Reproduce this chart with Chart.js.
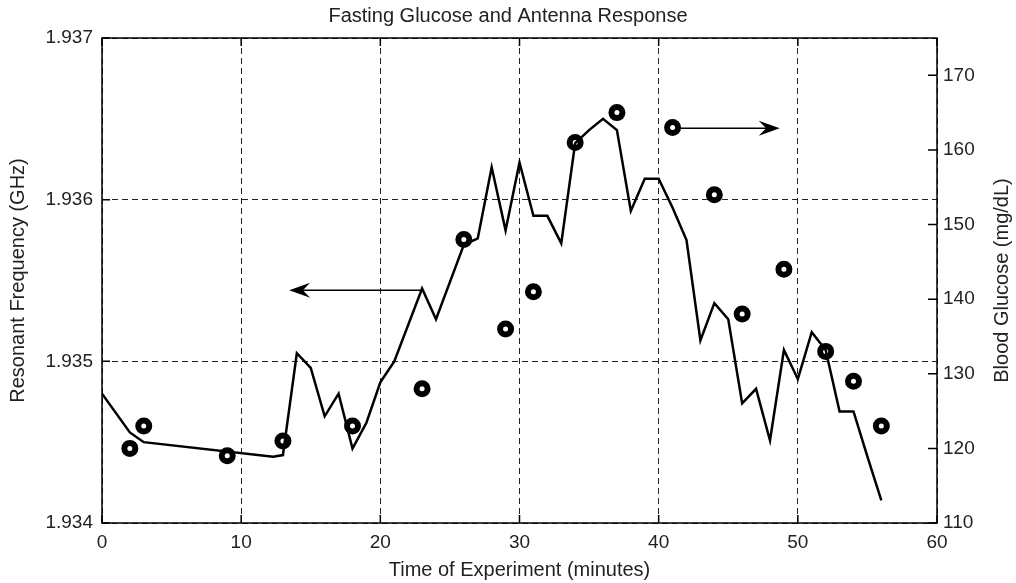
<!DOCTYPE html>
<html>
<head>
<meta charset="utf-8">
<script src="https://cdn.jsdelivr.net/npm/chart.js@4/dist/chart.umd.min.js"></script>
<style>
  body { margin: 0; background: #fff; }
  canvas { display: block; }
</style>
</head>
<body>
<canvas id="myChart" width="1016" height="583"></canvas>
<script>
// antenna response (left axis, GHz)
const freqTimes = [0, 2, 3, 12.3, 13, 14, 15, 16, 17, 18, 19, 20, 21, 23, 24, 26, 27, 28, 29, 30,
  31, 32, 33, 34, 35, 36, 37, 38, 39, 40, 41, 42, 43, 44, 45, 46, 47, 48, 49, 50,
  51, 52, 53, 54, 55, 56];
const freqValues = [1.93480, 1.93456, 1.93450, 1.93441, 1.93442, 1.93505, 1.93496, 1.93466, 1.93480, 1.93446,
  1.93462, 1.93487, 1.93500, 1.93545, 1.93526, 1.93572, 1.93576, 1.93620, 1.93581, 1.93623,
  1.93590, 1.93590, 1.93573, 1.93635, 1.93643, 1.93650, 1.93643, 1.93593, 1.93613, 1.93613,
  1.93595, 1.93575, 1.93513, 1.93536, 1.93526, 1.93474, 1.93483, 1.93451, 1.93507, 1.93489,
  1.93518, 1.93507, 1.93469, 1.93469, 1.93441, 1.93414];

// blood glucose (right axis, mg/dL)
const glucoseTimes = [2, 3, 9, 13, 18, 23, 26, 29, 31, 34, 37, 41, 44, 46, 49, 52, 54, 56];
const glucoseValues = [120, 123, 119, 121, 123, 128, 148, 136, 141, 161, 165, 163, 154, 138, 144, 133, 129, 123];

const xTicks = [0, 10, 20, 30, 40, 50, 60];
const freqTicks = [1.934, 1.935, 1.936, 1.937];
const glucoseTicks = [110, 120, 130, 140, 150, 160, 170];

// arrows pointing at the axis each series belongs to
const arrowFreq = { x1: 22.9, x2: 13.45, y: 1.93544, axis: 'y' };
const arrowGlucose = { x1: 41.6, x2: 48.7, y: 162.9, axis: 'y1' };

const FONT = '"Liberation Sans", Arial, sans-serif';
const TEXT = '#222';

let freqPoints = [];
for (let i = 0; i < freqTimes.length; i++) {
  freqPoints.push({ x: freqTimes[i], y: freqValues[i] });
}
let glucosePoints = [];
for (let i = 0; i < glucoseTimes.length; i++) {
  glucosePoints.push({ x: glucoseTimes[i], y: glucoseValues[i] });
}

function drawArrow(ctx, chart, a) {
  const xs = chart.scales.x, ys = chart.scales[a.axis];
  const x1 = xs.getPixelForValue(a.x1), x2 = xs.getPixelForValue(a.x2);
  const y = ys.getPixelForValue(a.y);
  const dir = x2 > x1 ? 1 : -1;
  const L = 21, W = 7.5;
  ctx.strokeStyle = '#000';
  ctx.lineWidth = 1.5;
  ctx.beginPath();
  ctx.moveTo(x1, y);
  ctx.lineTo(x2 - dir * L * 0.6, y);
  ctx.stroke();
  ctx.fillStyle = '#000';
  ctx.beginPath();
  ctx.moveTo(x2, y);
  ctx.lineTo(x2 - dir * L, y - W);
  ctx.lineTo(x2 - dir * L * 0.65, y);
  ctx.lineTo(x2 - dir * L, y + W);
  ctx.closePath();
  ctx.fill();
}

const framePlugin = {
  id: 'frame',
  afterDatasetsDraw(chart) {
    const ctx = chart.ctx;
    const a = chart.chartArea;
    const xs = chart.scales.x, yl = chart.scales.y, yr = chart.scales.y1;
    ctx.save();
    ctx.strokeStyle = '#000';
    ctx.lineWidth = 1.5;
    // inward tick marks
    ctx.beginPath();
    xTicks.forEach(v => {
      const px = xs.getPixelForValue(v);
      ctx.moveTo(px, a.bottom); ctx.lineTo(px, a.bottom - 8);
      ctx.moveTo(px, a.top); ctx.lineTo(px, a.top + 8);
    });
    freqTicks.forEach(v => {
      const py = yl.getPixelForValue(v);
      ctx.moveTo(a.left, py); ctx.lineTo(a.left + 8, py);
    });
    glucoseTicks.forEach(v => {
      const py = yr.getPixelForValue(v);
      ctx.moveTo(a.right, py); ctx.lineTo(a.right - 9, py);
    });
    ctx.stroke();
    ctx.strokeRect(a.left, a.top, a.right - a.left, a.bottom - a.top);
    drawArrow(ctx, chart, arrowFreq);
    drawArrow(ctx, chart, arrowGlucose);
    ctx.restore();
  },
  afterDraw(chart) {
    const ctx = chart.ctx;
    const a = chart.chartArea;
    ctx.save();
    ctx.translate(1002, (a.top + a.bottom) / 2);
    ctx.rotate(-Math.PI / 2);
    ctx.font = '20px ' + FONT;
    ctx.fillStyle = TEXT;
    ctx.textAlign = 'center';
    ctx.textBaseline = 'middle';
    ctx.fillText('Blood Glucose (mg/dL)', 0, 0);
    ctx.restore();
  }
};

Chart.defaults.font.family = FONT;
Chart.defaults.color = TEXT;

const myChart = new Chart(document.getElementById('myChart'), {
  type: 'line',
  data: {
    datasets: [{
      label: 'Resonant Frequency',
      data: freqPoints,
      yAxisID: 'y',
      borderColor: '#000',
      borderWidth: 2.5,
      pointRadius: 0,
      tension: 0,
      fill: false
    }, {
      type: 'scatter',
      label: 'Blood Glucose',
      data: glucosePoints,
      yAxisID: 'y1',
      showLine: false,
      pointStyle: 'circle',
      pointRadius: 5.5,
      pointBorderWidth: 6,
      pointBorderColor: '#000',
      pointBackgroundColor: '#fff',
      clip: false
    }]
  },
  options: {
    responsive: false,
    animation: false,
    layout: { padding: 0 },
    plugins: {
      legend: { display: false },
      tooltip: { enabled: false },
      title: {
        display: true,
        text: 'Fasting Glucose and Antenna Response',
        font: { size: 20, weight: 'normal' },
        color: TEXT,
        padding: { top: 4, bottom: 10 }
      }
    },
    scales: {
      x: {
        type: 'linear',
        min: 0, max: 60,
        afterBuildTicks: s => { s.ticks = xTicks.map(v => ({ value: v })); },
        afterFit: s => { s.height = 60; },
        grid: { color: '#222', lineWidth: 1, drawTicks: false },
        border: { display: false, dash: [6, 4] },
        ticks: { font: { size: 19 }, padding: 8, maxRotation: 0 },
        title: {
          display: true,
          text: 'Time of Experiment (minutes)',
          font: { size: 20 },
          padding: { top: 0, bottom: 1 }
        }
      },
      y: {
        position: 'left',
        min: 1.934, max: 1.937,
        afterBuildTicks: s => { s.ticks = freqTicks.map(v => ({ value: v })); },
        afterFit: s => { s.width = 102; },
        grid: { color: '#222', lineWidth: 1, drawTicks: false },
        border: { display: false, dash: [6, 4] },
        ticks: { font: { size: 19 }, padding: 9, callback: v => v.toFixed(3) },
        title: {
          display: true,
          text: 'Resonant Frequency (GHz)',
          font: { size: 20 },
          padding: { top: 6, bottom: 0 }
        }
      },
      y1: {
        position: 'right',
        min: 110, max: 175,
        afterBuildTicks: s => { s.ticks = glucoseTicks.map(v => ({ value: v })); },
        afterFit: s => { s.width = 79; },
        grid: { drawOnChartArea: false, drawTicks: false },
        border: { display: false },
        ticks: { font: { size: 19 }, padding: 6 }
      }
    }
  },
  plugins: [framePlugin]
});
</script>
</body>
</html>
